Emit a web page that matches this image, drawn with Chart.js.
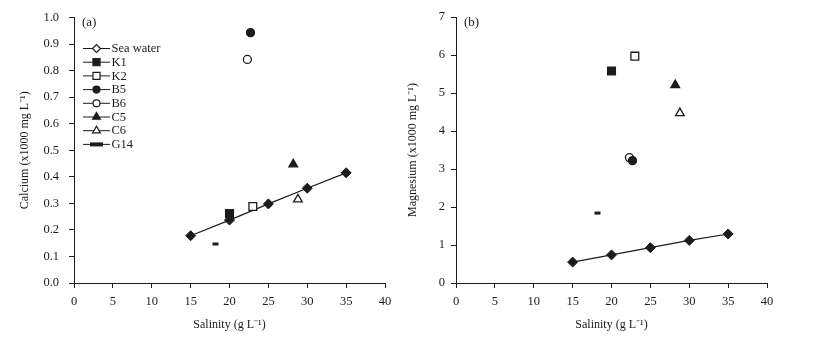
<!DOCTYPE html>
<html>
<head>
<meta charset="utf-8">
<script src="https://cdn.jsdelivr.net/npm/chart.js@4"></script>
<style>
  html, body { margin: 0; padding: 0; background: #fff; }
  #wrap { position: relative; width: 823px; height: 341px; }
  #ca-chart { position: absolute; left: 0; top: 0; }
  #mg-chart { position: absolute; left: 400px; top: 0; }
</style>
</head>
<body>
<div id="wrap">
  <canvas id="ca-chart" width="400" height="341"></canvas>
  <canvas id="mg-chart" width="423" height="341"></canvas>
</div>
<script>
"use strict";

// sea water dilution series
const seaSalinity = [15, 20, 25, 30, 35];
const seaCalcium = [0.178, 0.237, 0.298, 0.357, 0.415];
const seaMagnesium = [0.55, 0.74, 0.93, 1.12, 1.29];

// sampled stations
const stations = ["K1", "K2", "B5", "B6", "C5", "C6", "G14"];
const stationSalinity = [20, 23, 22.7, 22.3, 28.2, 28.8, 18.2];
const stationCalcium = [0.262, 0.288, 0.943, 0.842, 0.447, 0.315, 0.147];
const stationMagnesium = [5.58, 5.97, 3.22, 3.3, 5.21, 4.47, 1.84];

const xTicks = [0, 5, 10, 15, 20, 25, 30, 35, 40];

// marker look per station
const markerStyle = ["rect", "rect", "circle", "circle", "triangle", "triangle", "line"];
const markerFilled = [true, false, true, false, true, false, true];

const INK = "#1c1c1c";
const FONT = '"Liberation Serif", "Times New Roman", serif';

function markerRadius(style) {
  if (style === "rect") return 5.5;
  if (style === "triangle") return 5;
  if (style === "line") return 3;
  return 4;
}

const panelLabel = {
  id: "panelLabel",
  afterDraw(chart, args, opts) {
    const { ctx, chartArea } = chart;
    ctx.save();
    ctx.font = "13px " + FONT;
    ctx.fillStyle = INK;
    ctx.textBaseline = "middle";
    ctx.fillText(opts.text, chartArea.left + 8, chartArea.top + 5.5);
    ctx.restore();
  },
};

const lineLegend = {
  id: "lineLegend",
  afterDraw(chart, args, opts) {
    if (!opts.show) return;
    const ctx = chart.ctx;
    const names = ["Sea water"].concat(stations);
    const styles = ["rectRot"].concat(markerStyle);
    const filled = [false].concat(markerFilled);
    ctx.save();
    ctx.font = "12.5px " + FONT;
    ctx.textBaseline = "middle";
    names.forEach((name, i) => {
      const y = 48.5 + i * 13.7;
      ctx.strokeStyle = INK;
      ctx.lineWidth = 1;
      ctx.beginPath();
      ctx.moveTo(83, y);
      ctx.lineTo(110, y);
      ctx.stroke();
      ctx.fillStyle = filled[i] ? INK : "#fff";
      let st = styles[i];
      if (st === "line") {
        ctx.fillStyle = INK;
        ctx.fillRect(90, y - 2, 13, 4);
      } else {
        ctx.lineWidth = 1.2;
        Chart.helpers.drawPoint(ctx, {
          pointStyle: st,
          radius: st === "rectRot" ? 4 : markerRadius(st) - 0.5,
          rotation: 0,
          borderWidth: 1.2,
        }, 96.5, y);
      }
      ctx.fillStyle = INK;
      ctx.fillText(name, 111.5, y + 0.5);
    });
    ctx.restore();
  },
};

function buildPanel(canvasId, seaValues, stationValues, opt) {
  const datasets = [
    {
      type: "line",
      label: "Sea water",
      data: seaSalinity.map((s, i) => ({ x: s, y: seaValues[i] })),
      borderColor: INK,
      borderWidth: 1.2,
      pointStyle: "rectRot",
      pointRadius: 5,
      pointBackgroundColor: INK,
      pointBorderColor: INK,
      pointBorderWidth: 1,
      order: 1,
    },
  ];
  stations.forEach((name, i) => {
    datasets.push({
      type: "scatter",
      label: name,
      data: [{ x: stationSalinity[i], y: stationValues[i] }],
      pointStyle: markerStyle[i],
      pointRadius: markerRadius(markerStyle[i]),
      pointBackgroundColor: markerFilled[i] ? INK : "#fff",
      pointBorderColor: INK,
      pointBorderWidth: markerStyle[i] === "line" ? 3 : 1.3,
      order: 0,
    });
  });

  return new Chart(document.getElementById(canvasId), {
    data: { datasets },
    plugins: [panelLabel, lineLegend],
    options: {
      responsive: false,
      animation: false,
      layout: { padding: { left: 0, right: opt.padRight, top: 17, bottom: 0 } },
      scales: {
        x: {
          type: "linear",
          min: 0,
          max: 40,
          afterBuildTicks: (scale) => {
            scale.ticks = xTicks.map((v) => ({ value: v }));
          },
          afterFit: (scale) => {
            scale.height = 58;
          },
          border: { color: INK, width: 1 },
          grid: { drawOnChartArea: false, tickLength: 5, color: INK },
          ticks: { color: INK, padding: 6, font: { family: FONT, size: 12.5 } },
          title: {
            display: true,
            text: "Salinity (g L\u207B\u00B9)",
            color: INK,
            font: { family: FONT, size: 12 },
            padding: { top: 0, bottom: 9 },
          },
        },
        y: {
          type: "linear",
          min: 0,
          max: opt.yMax,
          afterBuildTicks: (scale) => {
            scale.ticks = opt.yTicks.map((v) => ({ value: v }));
          },
          afterFit: (scale) => {
            scale.width = opt.yWidth;
          },
          border: { color: INK, width: 1 },
          grid: { drawOnChartArea: false, tickLength: 5, color: INK },
          ticks: {
            color: INK,
            padding: opt.tickPad,
            font: { family: FONT, size: 12.5 },
            callback: (v) => opt.fmt(v),
          },
          title: {
            display: true,
            text: opt.yTitle,
            color: INK,
            font: { family: FONT, size: 12 },
            padding: { top: opt.titlePad, bottom: 0 },
          },
        },
      },
      plugins: {
        legend: { display: false },
        tooltip: { enabled: false },
        panelLabel: { text: opt.label },
        lineLegend: { show: opt.legend },
      },
    },
  });
}

const caTicks = [0, 0.1, 0.2, 0.3, 0.4, 0.5, 0.6, 0.7, 0.8, 0.9, 1.0];
const mgTicks = [0, 1, 2, 3, 4, 5, 6, 7];

buildPanel("ca-chart", seaCalcium, stationCalcium, {
  label: "(a)",
  legend: true,
  yMax: 1,
  yTicks: caTicks,
  fmt: (v) => v.toFixed(1),
  yTitle: "Calcium (x1000 mg L\u207B\u00B9)",
  yWidth: 74,
  padRight: 15,
  tickPad: 10,
  titlePad: 18,
});

buildPanel("mg-chart", seaMagnesium, stationMagnesium, {
  label: "(b)",
  legend: false,
  yMax: 7,
  yTicks: mgTicks,
  fmt: (v) => String(v),
  yTitle: "Magnesium (x1000 mg L\u207B\u00B9)",
  yWidth: 56,
  padRight: 56,
  tickPad: 6,
  titlePad: 6,
});
</script>
</body>
</html>
